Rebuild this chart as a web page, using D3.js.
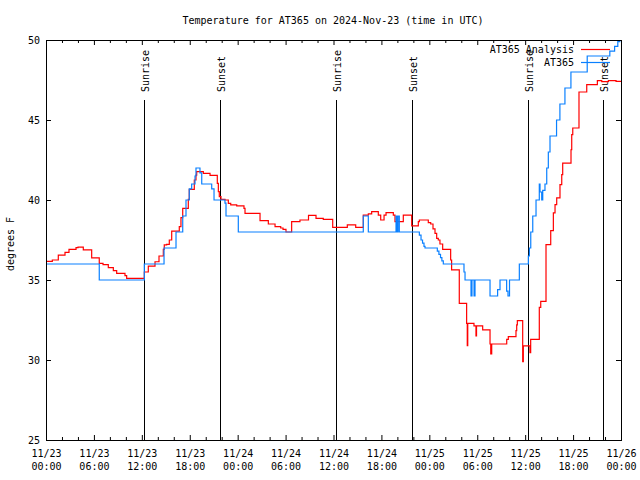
<!DOCTYPE html>
<html><head><meta charset="utf-8">
<script src="https://cdn.jsdelivr.net/npm/d3@7"></script>
<style>
body{margin:0;background:#fff}
svg{display:block}
text{font-family:"DejaVu Sans Mono",monospace;font-size:10px;fill:#000}
</style>
</head><body>
<svg id="c" width="640" height="480"></svg>
<script>
const titleText = "Temperature for AT365 on 2024-Nov-23 (time in UTC)";
const yLabel = "degrees F";
const seriesNames = ["AT365 Analysis", "AT365"];

// hours since 2024-11-23 00:00 UTC
const analysisHours = [0,0.79,1.54,2.38,2.88,3.76,4.01,4.67,5.72,6.67,7.14,7.80,8.43,8.85,9.89,10.10,
  12.31,12.81,13.65,14.15,14.69,14.81,15.11,15.44,15.74,16.69,16.90,17.12,17.82,17.94,18.57,18.78,18.87,
  19.70,20.54,21.45,21.58,21.70,21.91,22.41,22.83,23.13,23.88,24.79,24.92,26.80,27.84,28.68,29.39,29.68,
  30.05,30.76,31.80,32.87,33.81,34.72,35.90,37.73,38.78,39.73,40.36,40.78,41.61,41.91,42.33,42.58,43.49,
  43.70,44.74,45.79,46.62,46.75,47.87,48.17,48.46,48.71,48.92,49.12,49.33,49.67,50.67,50.79,51.75,52.67,
  52.75,52.81,53.59,53.84,53.91,54.68,55.60,55.69,55.81,57.69,57.89,58.85,58.94,59.02,59.69,59.77,59.85,
  60.60,60.69,61.77,61.95,62.61,63.20,63.53,63.74,63.95,64.36,64.58,64.70,65.74,65.83,65.96,66.74,67.71,
  69.04,69.59,70.42,71.38,72];
const analysisTemps = [36.17,36.25,36.56,36.73,36.92,37.02,37.06,36.88,36.38,36.04,35.96,35.77,35.58,35.42,35.27,35.10,
  35.50,35.87,36.14,36.50,36.92,37.19,37.23,37.50,38.06,38.33,38.90,39.48,40.04,40.67,41.25,41.56,41.77,
  41.67,41.54,41.04,40.52,40.21,40.04,40.00,39.79,39.69,39.63,39.48,39.17,38.71,38.50,38.33,38.25,38.17,
  38.00,38.65,38.75,39.04,38.85,38.79,38.29,38.44,38.29,39.06,39.13,39.27,39.06,38.75,39.06,39.21,39.06,
  38.65,39.06,38.38,38.65,38.75,38.58,38.50,38.20,37.92,37.60,37.50,37.25,36.92,36.25,35.63,33.54,32.29,
  30.90,32.29,32.13,31.50,32.13,31.88,31.00,30.38,31.00,31.29,31.46,31.83,32.19,32.46,29.90,30.88,30.88,
  30.46,31.29,33.29,33.67,37.21,38.08,39.19,39.71,40.13,40.96,41.58,42.31,43.14,44.08,44.50,46.75,47.21,
  47.46,47.40,47.46,47.42,47.42];

const sensorHours = [0,6.67,12.31,14.78,16.28,17.12,17.53,17.94,18.24,18.66,18.78,19.28,19.50,20.75,21.04,22.41,22.54,
  24.08,39.73,40.36,43.83,43.95,44.08,44.24,46.75,46.96,47.15,47.33,47.46,49.00,49.20,49.40,49.57,49.75,
  52.34,52.47,53.22,53.34,53.60,53.72,55.60,56.55,56.85,57.68,57.85,58.04,59.27,60.40,60.53,60.70,60.95,
  61.36,61.77,61.86,62.07,62.20,62.48,62.70,62.90,63.11,63.93,64.35,64.98,65.73,67.77,70.60,71.20,71.60,71.85,72];
const sensorTemps = [36,35,36,37,38,39,40,40.7,41,41.5,42,41.7,41,40.7,40,39.8,39,
  38,39,38,39,38,39,38,37.8,37.5,37.3,37.1,37,36.8,36.6,36.4,36.2,36,
  35.5,35,34,35,34,35,34,34.4,35,34.3,34,35,36,36.5,37,38,39,
  40,41,40.5,40,40.6,41,42,43,44,45,46,47,48,49,49.3,49.6,49.9,50.3,50.3];

const sunriseHours = [12.32, 36.35, 60.38];
const sunsetHours = [21.82, 45.80, 69.78];

const xTickHours = [0,6,12,18,24,30,36,42,48,54,60,66,72];
const xTickDates = ["11/23","11/23","11/23","11/23","11/24","11/24","11/24","11/24","11/25","11/25","11/25","11/25","11/26"];
const xTickTimes = ["00:00","06:00","12:00","18:00","00:00","06:00","12:00","18:00","00:00","06:00","12:00","18:00","00:00"];
const xMinorHours = d3.range(2, 72, 2).filter(h => h % 6 !== 0);
const yTicks = [25,30,35,40,45,50];

const svg = d3.select("#c");
const L = 46, R = 621, T = 40, B = 440;
const x = d3.scaleLinear().domain([0,72]).range([L,R]);
const y = d3.scaleLinear().domain([25,50]).range([B,T]);

svg.append("rect").attr("width",640).attr("height",480).attr("fill","#fff");

// title
svg.append("text").attr("x",333).attr("y",24).attr("text-anchor","middle").text(titleText);

// y label
svg.append("text").attr("transform","translate(14,244) rotate(-90)").attr("text-anchor","middle").text(yLabel);

// axes
const gx = svg.append("g").attr("transform",`translate(0,${B})`)
  .call(d3.axisBottom(x).tickValues(xTickHours).tickSizeInner(-5).tickSizeOuter(0).tickFormat((d,i)=>xTickDates[i]));
gx.select(".domain").remove();
gx.selectAll(".tick text").each(function(d,i){
  const t = d3.select(this);
  t.text(null).attr("y",null).attr("dy",null).attr("font-size",null).attr("font-family",null);
  t.append("tspan").attr("x",0).attr("y",17).text(xTickDates[i]);
  t.append("tspan").attr("x",0).attr("y",30).text(xTickTimes[i]);
});
const gxm = svg.append("g").attr("transform",`translate(0,${B})`)
  .call(d3.axisBottom(x).tickValues(xMinorHours).tickSizeInner(-3).tickSizeOuter(0).tickFormat(""));
gxm.select(".domain").remove();

const gt = svg.append("g").attr("transform",`translate(0,${T})`)
  .call(d3.axisTop(x).tickValues(xTickHours).tickSizeInner(-5).tickSizeOuter(0).tickFormat(""));
gt.select(".domain").remove();
const gtm = svg.append("g").attr("transform",`translate(0,${T})`)
  .call(d3.axisTop(x).tickValues(xMinorHours).tickSizeInner(-3).tickSizeOuter(0).tickFormat(""));
gtm.select(".domain").remove();

const gy = svg.append("g").attr("transform",`translate(${L},0)`)
  .call(d3.axisLeft(y).tickValues(yTicks).tickSizeInner(-5).tickSizeOuter(0).tickPadding(6));
gy.select(".domain").remove();
const gr = svg.append("g").attr("transform",`translate(${R},0)`)
  .call(d3.axisRight(y).tickValues(yTicks).tickSizeInner(-5).tickSizeOuter(0).tickFormat(""));
gr.select(".domain").remove();
svg.selectAll(".tick text").attr("font-family",null).attr("font-size",null);
svg.selectAll("g").attr("font-family",null).attr("font-size",null);
svg.selectAll(".tick line").attr("stroke","#000");

// sunrise / sunset markers
const events = sunriseHours.map(h=>({h, label:"Sunrise"})).concat(sunsetHours.map(h=>({h, label:"Sunset"})));
events.forEach(e=>{
  const px = Math.round(x(e.h)) + 0.5;
  svg.append("line").attr("x1",px).attr("x2",px).attr("y1",100).attr("y2",B).attr("stroke","#000").attr("stroke-width",1);
  svg.append("text").attr("transform",`translate(${px+4.5},92) rotate(-90)`).attr("text-anchor","start").text(e.label);
});

// legend
const legendY = [49, 62];
const legendColors = ["#ff0000", "#0a80ff"];
seriesNames.forEach((n,i)=>{
  svg.append("text").attr("x",574).attr("y",legendY[i]+4).attr("text-anchor","end").text(n);
  svg.append("line").attr("x1",581).attr("x2",610).attr("y1",legendY[i]+0.5).attr("y2",legendY[i]+0.5)
    .attr("stroke",legendColors[i]).attr("stroke-width",1.2);
});

// data
svg.append("clipPath").attr("id","clip").append("rect").attr("x",L).attr("y",T).attr("width",R-L).attr("height",B-T);
const line = d3.line().curve(d3.curveStepAfter).x(d=>x(d[0])).y(d=>y(d[1]));
const analysis = analysisHours.map((h,i)=>[h, analysisTemps[i]]);
const sensor = sensorHours.map((h,i)=>[h, sensorTemps[i]]);
const gd = svg.append("g").attr("clip-path","url(#clip)");
gd.append("path").datum(analysis).attr("d",line).attr("fill","none").attr("stroke",legendColors[0]).attr("stroke-width",1.2);
gd.append("path").datum(sensor).attr("d",line).attr("fill","none").attr("stroke",legendColors[1]).attr("stroke-width",1.2);

// frame
svg.append("rect").attr("x",L+0.5).attr("y",T+0.5).attr("width",R-L).attr("height",B-T)
  .attr("fill","none").attr("stroke","#000").attr("stroke-width",1);
</script>
</body></html>
